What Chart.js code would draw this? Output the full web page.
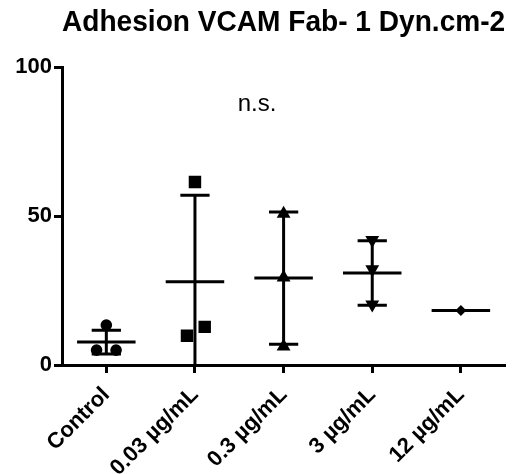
<!DOCTYPE html>
<html>
<head>
<meta charset="utf-8">
<script src="https://cdn.jsdelivr.net/npm/chart.js@4.4.0/dist/chart.umd.min.js"></script>
<style>
  html, body { margin: 0; padding: 0; background: #fff; }
</style>
</head>
<body>
<canvas id="chart" width="514" height="474"></canvas>
<script>
// data
const categories = ['Control', '0.03 µg/mL', '0.3 µg/mL', '3 µg/mL', '12 µg/mL'];
const controlVals = [13.4, 5.0, 5.0];
const dose003Vals = [61.5, 9.8, 12.8];
const dose03Vals = [50.8, 29.4, 6.2];
const dose3Vals = [42.0, 32.2, 20.3];
const dose12Vals = [18.3];
const jitter = [[0, -0.11, 0.11], [0, -0.09, 0.11], [0, 0, 0], [0, 0, 0], [0]];
const means = [7.7, 28.0, 29.2, 30.9, 18.3];
const sds = [4.0, 29.0, 22.2, 10.8, 0];
const yTicks = [0, 50, 100];

const FONT = "'Liberation Sans', Arial, sans-serif";
const groups = [controlVals, dose003Vals, dose03Vals, dose3Vals, dose12Vals];
const markers = [
    { style: 'circle', r: 5.8, rot: 0 },
    { style: 'rect', r: 8.8, rot: 0 },
    { style: 'triangle', r: 8, rot: 0 },
    { style: 'triangle', r: 8, rot: 180 },
    { style: 'rectRot', r: 5.5, rot: 0 }
];

const datasets = groups.map((vals, i) => ({
    data: vals.map((v, j) => ({ x: i + jitter[i][j], y: v })),
    pointStyle: markers[i].style,
    pointRadius: markers[i].r,
    pointRotation: markers[i].rot,
    backgroundColor: '#000',
    borderColor: '#000',
    borderWidth: 0
}));

/*==================== MEAN + SD BARS ====================*/
const errorBars = {
    id: 'errorBars',
    beforeDatasetsDraw(chart) {
        const { ctx, chartArea, scales: { x, y } } = chart;
        ctx.save();
        // keep bars inside the plot, like the original
        ctx.beginPath();
        ctx.rect(chartArea.left, chartArea.top - 5, chartArea.width, chartArea.height + 5);
        ctx.clip();
        ctx.strokeStyle = '#000';
        ctx.lineWidth = 3;
        ctx.lineCap = 'butt';
        means.forEach((m, i) => {
            const cx = x.getPixelForValue(i);
            const halfMean = x.getPixelForValue(i + 0.33) - cx;
            const halfCap = x.getPixelForValue(i + 0.165) - cx;
            const yMean = y.getPixelForValue(m);
            ctx.beginPath();
            ctx.moveTo(cx - halfMean, yMean);
            ctx.lineTo(cx + halfMean, yMean);
            if (sds[i] > 0) {
                const yHi = y.getPixelForValue(m + sds[i]);
                const yLo = y.getPixelForValue(m - sds[i]);
                ctx.moveTo(cx, yHi);
                ctx.lineTo(cx, yLo);
                ctx.moveTo(cx - halfCap, yHi);
                ctx.lineTo(cx + halfCap, yHi);
                ctx.moveTo(cx - halfCap, yLo);
                ctx.lineTo(cx + halfCap, yLo);
            }
            ctx.stroke();
        });
        ctx.restore();
    },
    afterDatasetsDraw(chart) {
        const { ctx, scales: { x, y } } = chart;
        ctx.save();
        ctx.fillStyle = '#000';
        ctx.font = '24px ' + FONT;
        ctx.textAlign = 'center';
        ctx.textBaseline = 'middle';
        ctx.fillText('n.s.', x.getPixelForValue(1.7), y.getPixelForValue(87.5));
        ctx.restore();
    }
};

new Chart(document.getElementById('chart'), {
    type: 'scatter',
    data: { datasets },
    plugins: [errorBars],
    options: {
        responsive: false,
        animation: false,
        devicePixelRatio: 1,
        layout: { padding: { left: 0, right: 3, top: 0, bottom: 0 } },
        plugins: {
            legend: { display: false },
            tooltip: { enabled: false },
            title: {
                display: true,
                text: 'Adhesion VCAM Fab- 1 Dyn.cm-2',
                fullSize: false,
                color: '#000',
                font: { family: FONT, size: 29, weight: 'bold' },
                padding: { top: 6, bottom: 26.5 }
            }
        },
        scales: {
            x: {
                type: 'linear',
                min: -0.5,
                max: 4.5,
                afterBuildTicks: axis => { axis.ticks = categories.map((c, i) => ({ value: i })); },
                afterFit: axis => { axis.height = 109; },
                grid: { drawOnChartArea: false, drawTicks: true, tickLength: 8, tickWidth: 3, tickColor: '#000' },
                border: { display: true, color: '#000', width: 3 },
                ticks: {
                    callback: v => categories[v],
                    autoSkip: false,
                    minRotation: 45,
                    maxRotation: 45,
                    color: '#000',
                    padding: 9,
                    font: { family: FONT, size: 22, weight: 'bold' }
                }
            },
            y: {
                min: 0,
                max: 100,
                afterBuildTicks: axis => { axis.ticks = yTicks.map(v => ({ value: v })); },
                afterFit: axis => { axis.width = 62; },
                grid: { drawOnChartArea: false, drawTicks: true, tickLength: 8, tickWidth: 3, tickColor: '#000' },
                border: { display: true, color: '#000', width: 3 },
                ticks: {
                    color: '#000',
                    padding: 2,
                    font: { family: FONT, size: 22, weight: 'bold' }
                }
            }
        }
    }
});
</script>
</body>
</html>
